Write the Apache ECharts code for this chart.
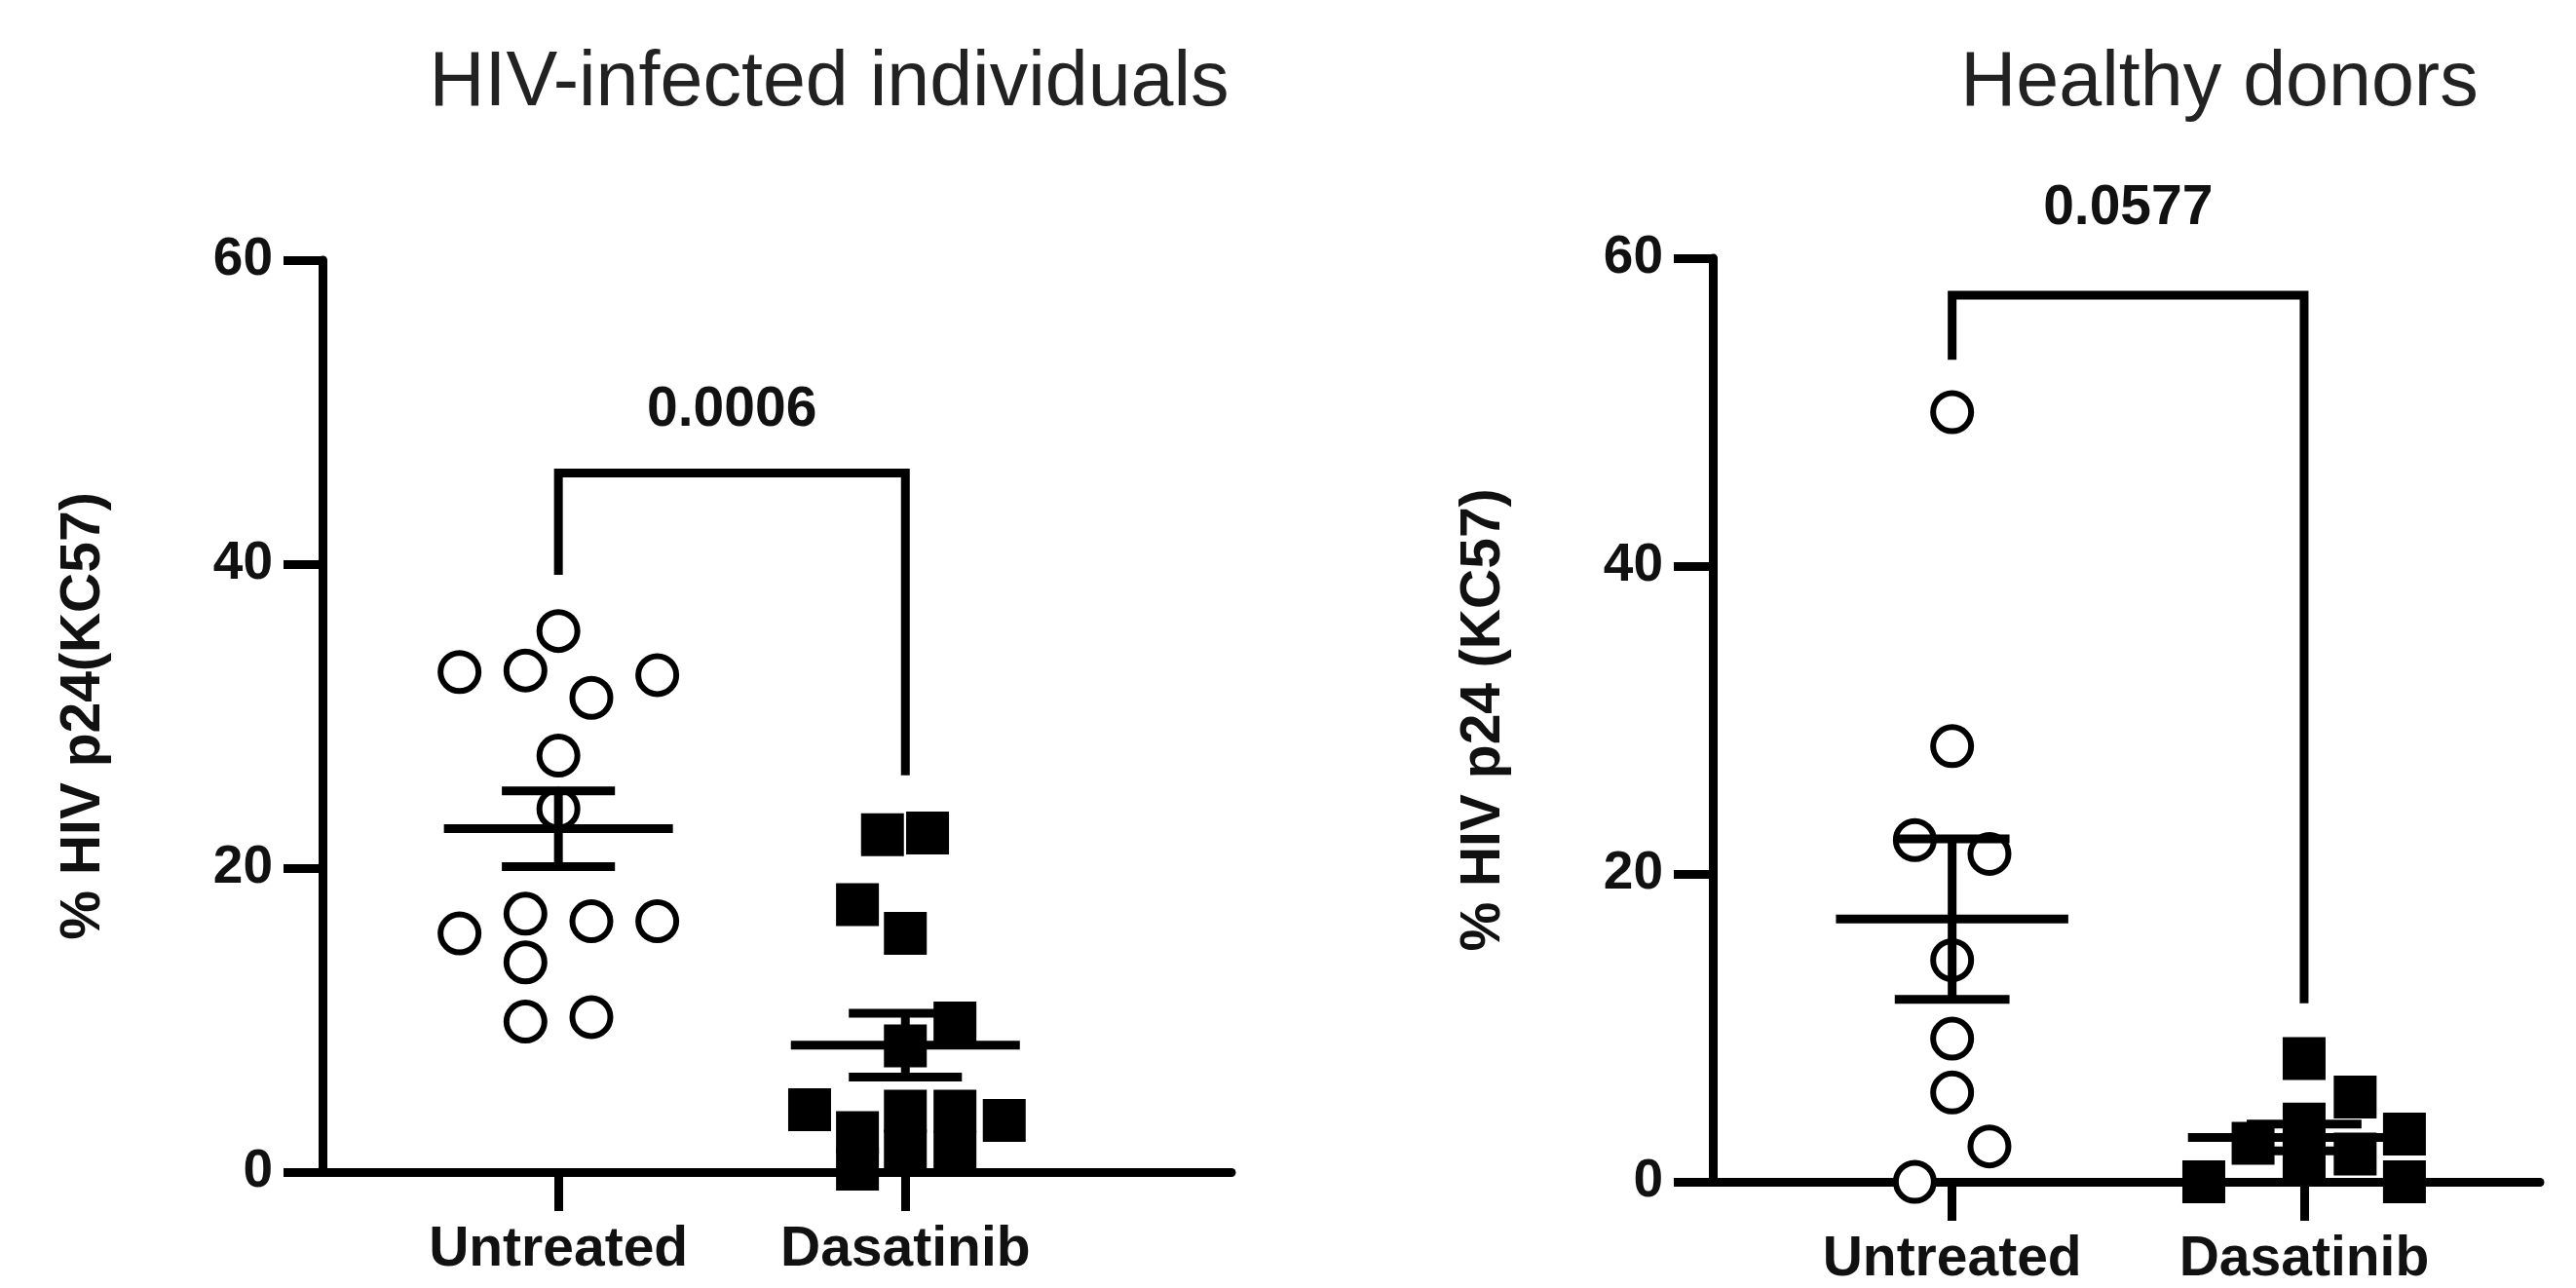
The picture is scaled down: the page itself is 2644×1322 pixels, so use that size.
<!DOCTYPE html>
<html>
<head>
<meta charset="utf-8">
<script src="https://cdn.jsdelivr.net/npm/echarts@6/dist/echarts.min.js"></script>
<style>
  html, body { margin: 0; padding: 0; background: #fff; }
  #chart { width: 2644px; height: 1322px; }
</style>
</head>
<body>
<div id="chart"></div>
<script>
// ---------- data ----------
const categories = ['Untreated', 'Dasatinib'];
const yTicks = [0, 20, 40, 60];

const panelTitles = ['HIV-infected individuals', 'Healthy donors'];
const yAxisNames = ['% HIV p24(KC57)', '% HIV p24 (KC57)'];
const pValues = ['0.0006', '0.0577'];

// HIV-infected individuals
const hivUntreated = [35.6, 32.9, 33.0, 32.7, 31.2, 27.4, 23.9, 15.7, 17.0, 16.5, 16.5, 13.8, 9.9, 10.2];
const hivDasatinib = [22.2, 22.3, 17.6, 15.7, 9.8, 8.3, 4.1, 2.6, 0.2, 4.0, 1.4, 4.0, 1.3, 3.4];
// Healthy donors
const hdUntreated = [50.0, 28.3, 22.2, 21.3, 14.4, 9.3, 5.8, 2.3, 0.0];
const hdDasatinib = [8.0, 5.5, 3.75, 2.5, 1.25, 1.8, 3.1, 0.0, 0.0];

// horizontal scatter offsets of each point (fraction of category spacing)
const hivUntreatedJitter = [0, -0.285, -0.095, 0.285, 0.095, 0, 0, -0.285, -0.095, 0.095, 0.285, -0.095, -0.095, 0.095];
const hivDasatinibJitter = [-0.066, 0.064, -0.138, 0, 0.143, 0, -0.276, -0.138, -0.138, 0, 0, 0.143, 0.143, 0.285];
const hdUntreatedJitter = [0, 0, -0.106, 0.106, 0, 0, 0, 0.106, -0.106];
const hdDasatinibJitter = [0, 0.145, 0, -0.145, 0, 0.145, 0.285, -0.285, 0.285];

// significance brackets: [left leg end, bar height, right leg end]
const hivBracket = [39.3, 46.0, 26.1];
const hdBracket = [53.4, 57.6, 11.6];
// p-value text height
const pTextY = [50.1, 63.2];

// ---------- helpers ----------
function mean(a) { return a.reduce((s, v) => s + v, 0) / a.length; }
function sem(a) {
  const m = mean(a);
  const v = a.reduce((s, x) => s + (x - m) * (x - m), 0) / (a.length - 1);
  return Math.sqrt(v) / Math.sqrt(a.length);
}
function pts(vals, jit, cat) { return vals.map((v, i) => [cat + jit[i], v]); }

const FONT = "'Liberation Sans', Arial, sans-serif";
const LW = 9;
const INK = '#000';
const TXT = '#111';

function renderErr(params, api) {
  const x = api.value(0), m = api.value(1), s = api.value(2);
  const meanHalf = 0.33, capHalf = 0.163;
  const ml = api.coord([x - meanHalf, m]), mr = api.coord([x + meanHalf, m]);
  const t = api.coord([x, m + s]), b = api.coord([x, m - s]);
  const tl = api.coord([x - capHalf, m + s]), tr = api.coord([x + capHalf, m + s]);
  const bl = api.coord([x - capHalf, m - s]), br = api.coord([x + capHalf, m - s]);
  const st = { stroke: INK, lineWidth: LW, lineCap: 'butt' };
  return {
    type: 'group',
    children: [
      { type: 'line', shape: { x1: ml[0], y1: ml[1], x2: mr[0], y2: mr[1] }, style: st },
      { type: 'line', shape: { x1: t[0], y1: t[1], x2: b[0], y2: b[1] }, style: st },
      { type: 'line', shape: { x1: tl[0], y1: tl[1], x2: tr[0], y2: tr[1] }, style: st },
      { type: 'line', shape: { x1: bl[0], y1: bl[1], x2: br[0], y2: br[1] }, style: st }
    ]
  };
}

function xAxisDef(gi, min, max) {
  return {
    type: 'value', gridIndex: gi, min: min, max: max,
    splitLine: { show: false },
    axisLine: { show: true, onZero: false, lineStyle: { color: INK, width: LW } },
    axisTick: { show: true, customValues: [1, 2], length: 40, inside: false, lineStyle: { color: INK, width: LW } },
    axisLabel: {
      show: true, customValues: [1, 2], margin: 52,
      formatter: v => categories[Math.round(v) - 1] || '',
      color: TXT, fontFamily: FONT, fontWeight: 'bold', fontSize: 57
    }
  };
}
function yAxisDef(gi, name, gap) {
  return {
    type: 'value', gridIndex: gi, min: yTicks[0], max: yTicks[yTicks.length - 1], interval: 20,
    splitLine: { show: false },
    axisLine: { show: true, lineStyle: { color: INK, width: LW } },
    axisTick: { show: true, length: 40, lineStyle: { color: INK, width: LW } },
    axisLabel: { margin: 51, color: TXT, fontFamily: FONT, fontWeight: 'bold', fontSize: 55 },
    name: name, nameLocation: 'middle', nameGap: gap,
    nameTextStyle: { color: TXT, fontFamily: FONT, fontWeight: 'bold', fontSize: 57 }
  };
}
function scatterDef(gi, data, symbol, filled, z) {
  return {
    type: 'scatter', xAxisIndex: gi, yAxisIndex: gi, data: data, clip: false, z: z,
    symbol: symbol, symbolSize: filled ? 44 : 39,
    itemStyle: filled ? { color: INK, opacity: 1 } : { color: '#fff', borderColor: INK, borderWidth: 6, opacity: 1 },
    emphasis: { disabled: true }, silent: true
  };
}
function bracketDef(gi, br) {
  return {
    type: 'line', xAxisIndex: gi, yAxisIndex: gi, clip: false, z: 5,
    data: [[1, br[0]], [1, br[1]], [2, br[1]], [2, br[2]]],
    symbol: 'none', lineStyle: { color: INK, width: LW, cap: 'butt', join: 'miter', opacity: 1 },
    silent: true
  };
}
function pLabelDef(gi, txt, y) {
  return {
    type: 'scatter', xAxisIndex: gi, yAxisIndex: gi, clip: false, z: 6,
    data: [[1.5, y]], symbolSize: 1, itemStyle: { color: 'rgba(0,0,0,0)', opacity: 1 }, silent: true,
    label: { show: true, position: 'inside', formatter: txt, color: TXT, opacity: 1, fontFamily: FONT, fontWeight: 'bold', fontSize: 57 }
  };
}
function errDef(gi, groups) {
  return {
    type: 'custom', xAxisIndex: gi, yAxisIndex: gi, clip: false, z: 10, silent: true,
    renderItem: renderErr,
    data: groups.map((g, i) => [i + 1, mean(g), sem(g)])
  };
}

const chart = echarts.init(document.getElementById('chart'), null, { renderer: 'canvas' });
chart.setOption({
  backgroundColor: '#fff',
  animation: false,
  grid: [
    { left: 331, top: 267, width: 933, height: 936 },
    { left: 1758, top: 265, width: 849, height: 948 }
  ],
  graphic: [
    { type: 'text', x: 851, y: 86, style: { text: panelTitles[0], align: 'center', verticalAlign: 'middle', fill: '#222', font: "79px 'Liberation Sans', Arial, sans-serif" } },
    { type: 'text', x: 2278, y: 86, style: { text: panelTitles[1], align: 'center', verticalAlign: 'middle', fill: '#222', font: "79px 'Liberation Sans', Arial, sans-serif" } }
  ],
  xAxis: [xAxisDef(0, 0.32, 2.94), xAxisDef(1, 0.32, 2.67)],
  yAxis: [yAxisDef(0, yAxisNames[0], 216), yAxisDef(1, yAxisNames[1], 206)],
  series: [
    scatterDef(0, pts(hivUntreated, hivUntreatedJitter, 1), 'circle', false, 3),
    scatterDef(0, pts(hivDasatinib, hivDasatinibJitter, 2), 'rect', true, 3),
    scatterDef(1, pts(hdUntreated, hdUntreatedJitter, 1), 'circle', false, 3),
    scatterDef(1, pts(hdDasatinib, hdDasatinibJitter, 2), 'rect', true, 3),
    errDef(0, [hivUntreated, hivDasatinib]),
    errDef(1, [hdUntreated, hdDasatinib]),
    bracketDef(0, hivBracket),
    bracketDef(1, hdBracket),
    pLabelDef(0, pValues[0], pTextY[0]),
    pLabelDef(1, pValues[1], pTextY[1])
  ]
});
</script>
</body>
</html>
